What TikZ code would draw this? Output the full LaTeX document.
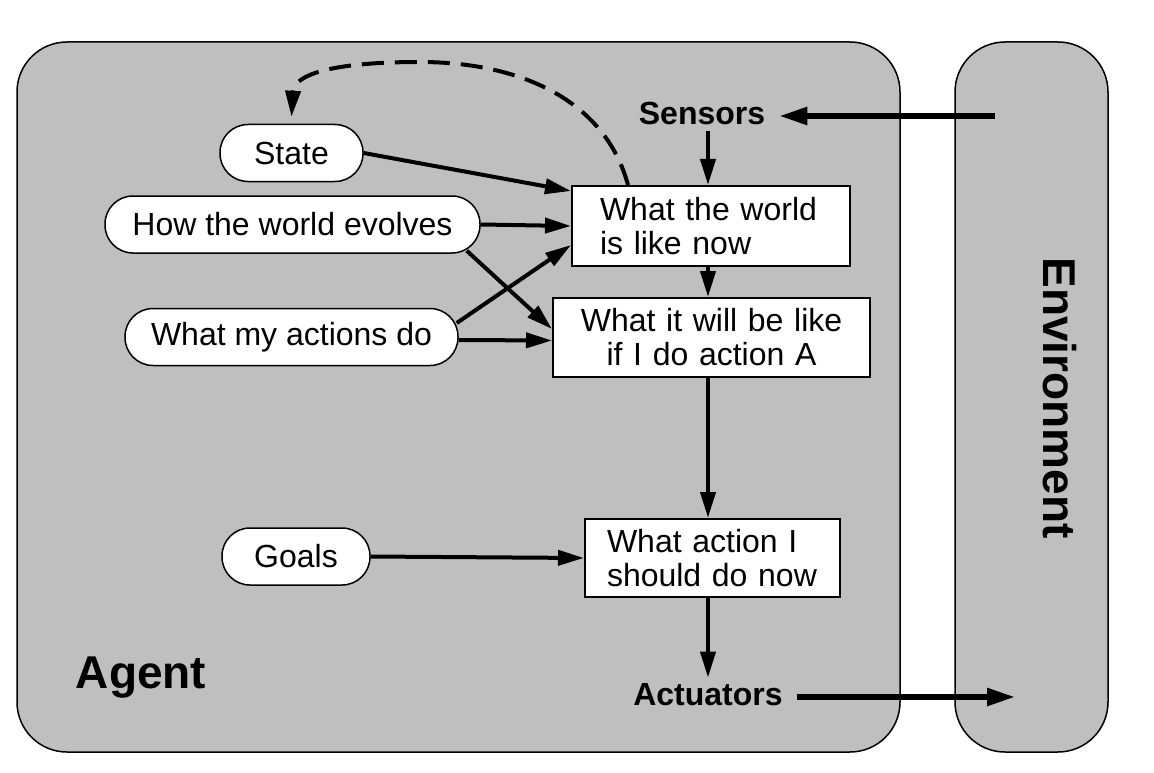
\documentclass[tikz,border=0pt]{standalone}
\usepackage{fontspec}
\setmainfont{Liberation Sans}
\usetikzlibrary{arrows.meta,calc}
\definecolor{agentgray}{RGB}{191,191,191}
\begin{document}
\begin{tikzpicture}[x=1pt,y=-1pt,
  pill/.style={draw=black,line width=1.5pt,fill=white,rounded corners=28pt,minimum height=57pt,inner ysep=0pt,font=\fontsize{32}{34}\selectfont},
  box/.style={draw=black,line width=2pt,fill=white,minimum height=80pt,inner ysep=0pt,font=\fontsize{32}{34}\selectfont},
  lbl/.style={font=\fontsize{32}{34}\selectfont\bfseries,inner xsep=14pt,inner ysep=6pt},
  biglbl/.style={font=\fontsize{46}{48}\selectfont\bfseries},
  arr/.style={line width=4pt,-{Triangle[length=26pt,width=15pt]}},
  envarr/.style={line width=5.5pt,-{Triangle[length=28pt,width=17pt]}},
  panel/.style={draw=black,line width=1.5pt,fill=agentgray,rounded corners=50pt}]
\useasboundingbox (0,0) rectangle (1154,773);
% panels
\node[panel,minimum width=883pt,minimum height=710pt] (agent) at (458.5,397) {};
\node[panel,minimum width=153pt,minimum height=710pt] (env) at (1031.5,397) {};
\node[biglbl,rotate=-90] (envlbl) at (1060,398) {Environment};
\node[biglbl] (agentlbl) at (141,678) {Agent};
% labels
\node[lbl] (sensors) at (702,113) {Sensors};
\node[lbl] (act) at (708,695) {Actuators};
% ovals
\node[pill,minimum width=143pt] (state) at (291.5,153) {State};
\node[pill,minimum width=375pt] (hw) at (292.5,224.5) {How the world evolves};
\node[pill,minimum width=333pt] (wma) at (291.5,337) {What my actions do};
\node[pill,minimum width=148pt] (goals) at (296,556.5) {Goals};
% boxes
\node[box,text width=222pt,inner xsep=28pt,align=left] (box1) at (711,226) {What the world\\is like now};
\node[box,text width=275pt,inner xsep=21pt,align=center,minimum height=79pt] (box2) at (711.5,337.5) {What it will be like\\if I do action A};
\node[box,text width=211pt,inner xsep=22pt,align=left,minimum height=78pt] (box3) at (712.5,558) {What action I\\should do now};
% helper coordinates
\coordinate (vx) at (708,0);
\coordinate (envin) at (995,116);
\coordinate (envout) at (1015,697);
% vertical flow
\draw[arr] (sensors.south -| vx) -- (box1.north -| vx);
\draw[arr] (box1.south -| vx) -- (box2.north -| vx);
\draw[arr] (box2.south -| vx) -- (box3.north -| vx);
\draw[arr] (box3.south -| vx) -- (act.north -| vx);
% environment links
\draw[envarr] (envin) -- (sensors.east |- envin);
\draw[envarr] (act.east |- envout) -- (envout);
% inputs
\draw[arr] (state.east) -- ([yshift=-6pt]box1.north west);
\draw[arr] (hw.east) -- (box1.west);
\draw[arr] ([xshift=-14pt,yshift=3pt]hw.south east) -- ([yshift=-32pt]box2.north west);
\draw[arr] ([xshift=-2pt,yshift=14pt]wma.east) -- ([yshift=22pt]box1.south west);
\draw[arr] ([yshift=-3pt]wma.east) -- ([yshift=-3pt]box2.west);
\draw[arr] (goals.east) -- (box3.west);
% dashed feedback
\draw[arr,dash pattern=on 22pt off 11pt] ([xshift=-83pt]box1.north) .. controls (605,100) and (520,62) .. (420,62) .. controls (330,62) and (294,75) .. ([yshift=7pt]state.north);
\end{tikzpicture}
\end{document}
